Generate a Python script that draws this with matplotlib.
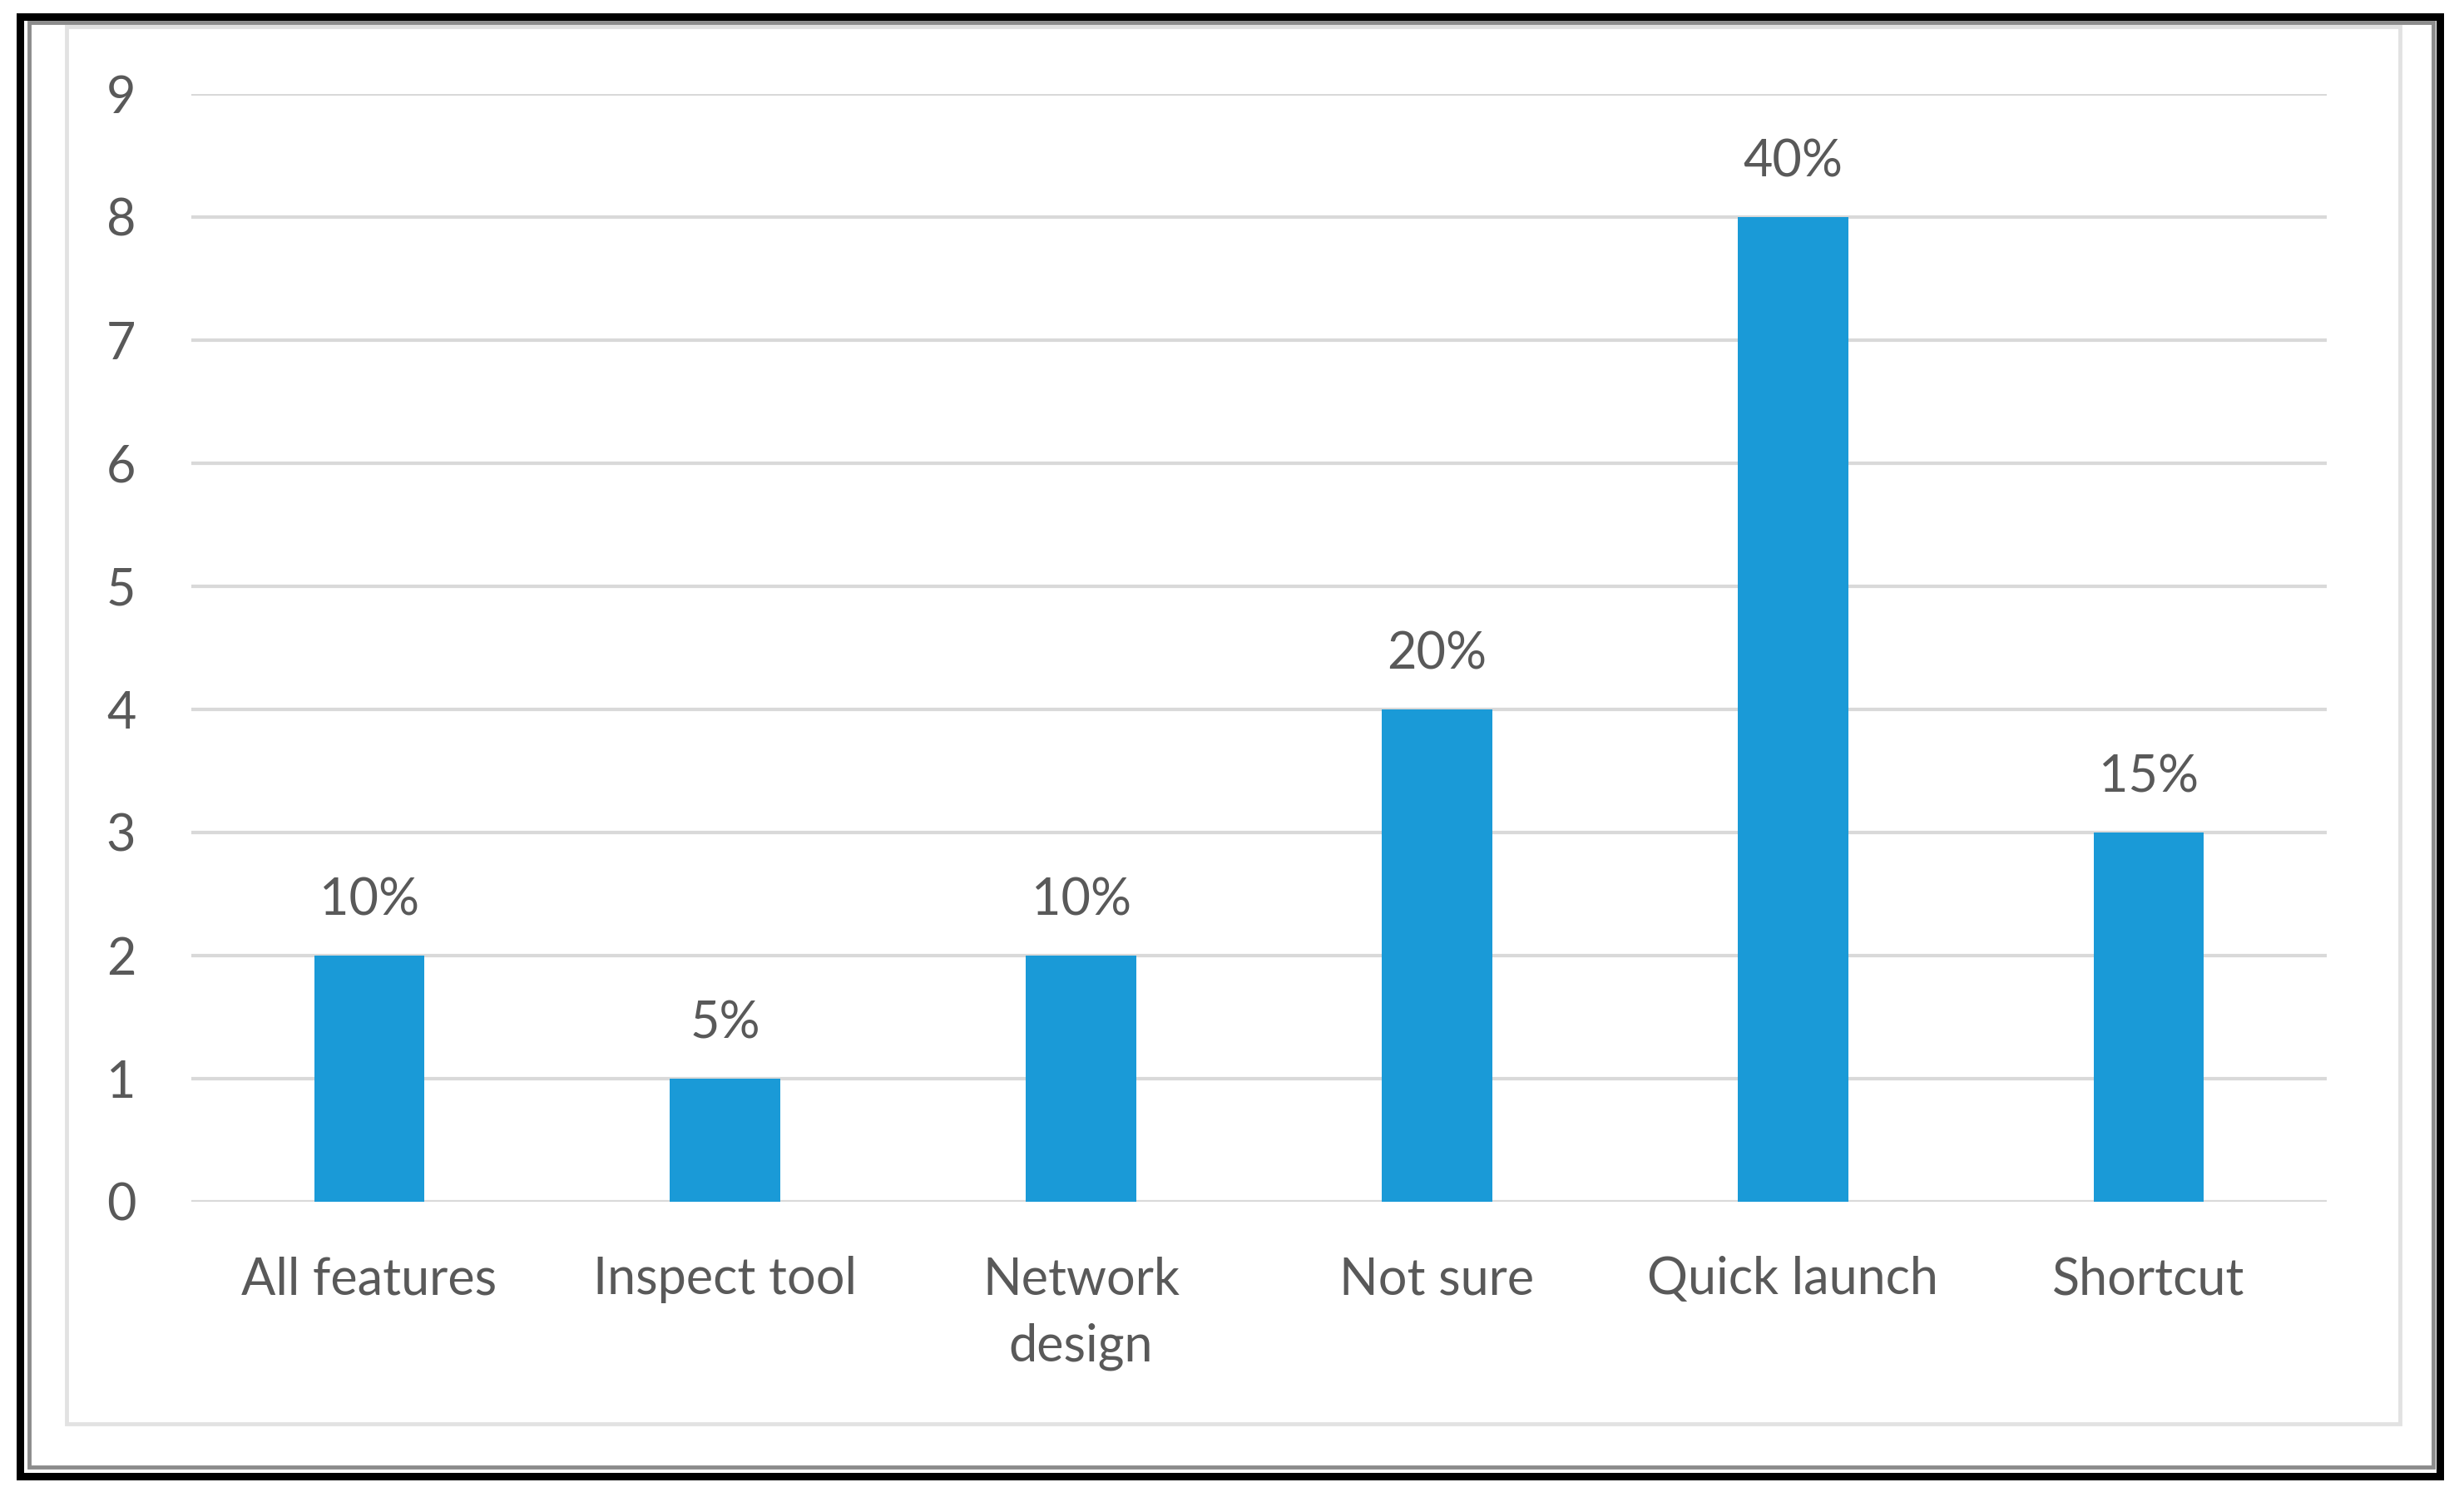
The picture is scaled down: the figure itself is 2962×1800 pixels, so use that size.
import matplotlib.pyplot as plt
from matplotlib.patches import Rectangle

categories = ['All features', 'Inspect tool', 'Network\ndesign', 'Not sure', 'Quick launch', 'Shortcut']
counts = [2, 1, 2, 4, 8, 3]
pct_labels = ['10%', '5%', '10%', '20%', '40%', '15%']
yticks = list(range(0, 10))

plt.rcParams['font.family'] = ['Lato', 'DejaVu Sans']
text_color = '#595959'
bar_color = '#1a9ad7'

W, H = 2962, 1800
fig = plt.figure(figsize=(W / 100, H / 100), dpi=100)
fig.patch.set_facecolor('white')

# frame of the picture: black outer edge, gray inner line, light chart-area box
def px_rect(x0, y0, x1, y1, **kw):
    fig.patches.append(Rectangle((x0 / W, 1 - y1 / H), (x1 - x0) / W, (y1 - y0) / H,
                                 transform=fig.transFigure, fill=False, **kw))

px_rect(80, 32, 2885, 1712, edgecolor='#e2e2e2', linewidth=3.5)
px_rect(35, 27, 2925, 1764, edgecolor='#8c8c8c', linewidth=3.5)
px_rect(24, 20, 2933, 1775, edgecolor='black', linewidth=6.5)

ax = fig.add_axes([230 / W, 1 - 1445 / H, (2797 - 230) / W, (1445 - 113) / H])
x = range(len(categories))
bars = ax.bar(x, counts, width=0.31, color=bar_color, zorder=3)
ax.bar_label(bars, labels=pct_labels, padding=27, fontsize=44, color=text_color)

ax.set_xlim(-0.5, len(categories) - 0.5)
ax.set_ylim(0, 9)
ax.set_yticks(yticks)
ax.set_xticks(list(x))
ax.set_xticklabels(categories, linespacing=1.5)
ax.tick_params(axis='both', length=0, labelsize=44, colors=text_color)
ax.tick_params(axis='y', pad=48)
ax.tick_params(axis='x', pad=47)
ax.grid(axis='y', color='#d9d9d9', linewidth=3, zorder=0)
for s in ax.spines.values():
    s.set_visible(False)

fig.savefig('out.png', dpi=100)
